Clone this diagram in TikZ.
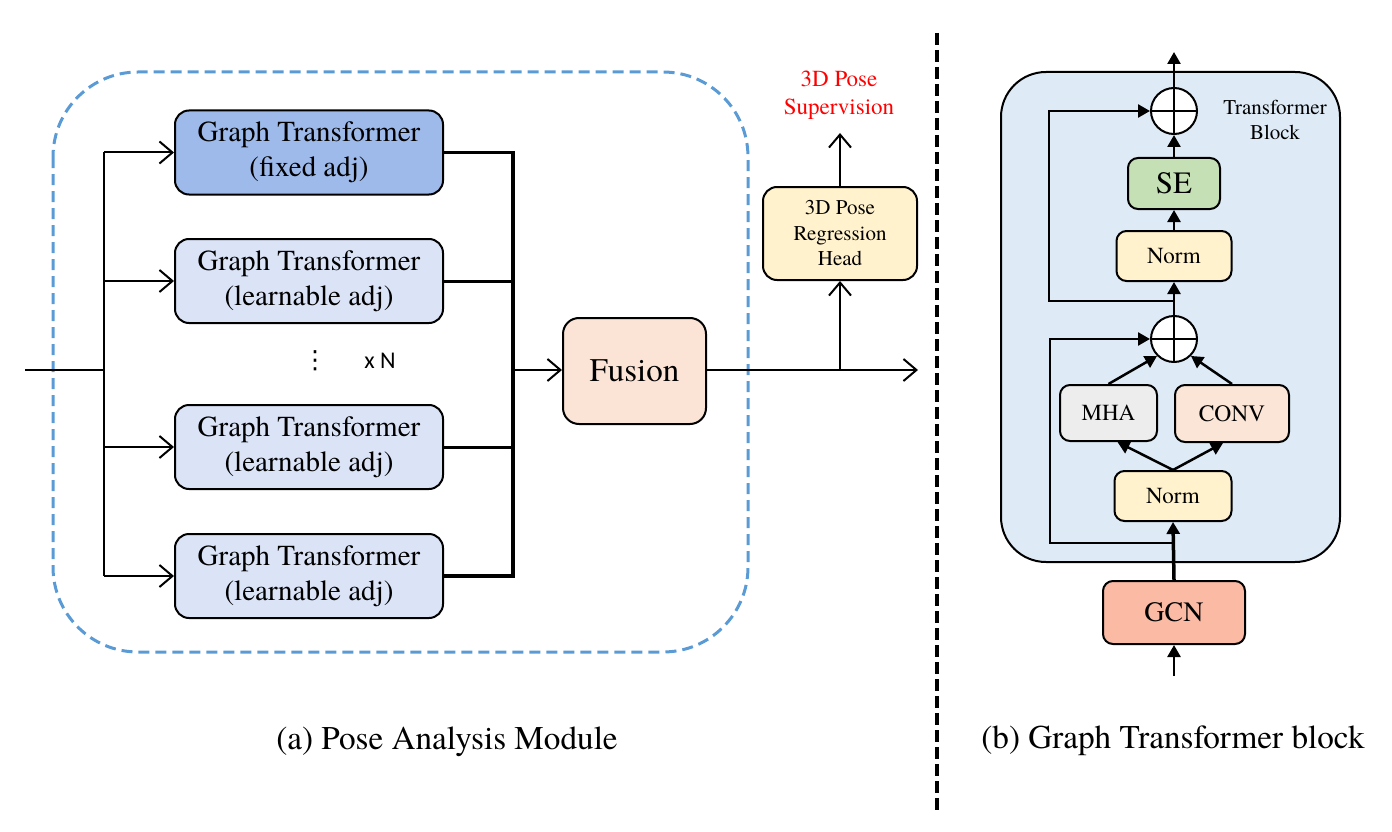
\documentclass[tikz,border=0pt]{standalone}
\usepackage{fontspec}
\setmainfont{texgyretermes}[Extension=.otf, UprightFont=*-regular, BoldFont=*-bold, ItalicFont=*-italic, BoldItalicFont=*-bolditalic]
\newfontfamily\calibri{Carlito}
\newfontfamily\djv{DejaVu Sans}
\usetikzlibrary{arrows.meta,calc}
\definecolor{gtdark}{RGB}{158,186,234}
\definecolor{gtlight}{RGB}{219,228,247}
\definecolor{fusionc}{RGB}{251,228,214}
\definecolor{headc}{RGB}{255,242,204}
\definecolor{blockc}{RGB}{222,235,247}
\definecolor{sec}{RGB}{197,224,180}
\definecolor{mhac}{RGB}{237,237,237}
\definecolor{convc}{RGB}{251,229,214}
\definecolor{gcnc}{RGB}{250,186,164}
\definecolor{dashc}{RGB}{91,155,213}
\tikzset{
  gtbox/.style={draw, line width=2pt, rounded corners=14pt, minimum width=268pt, minimum height=84pt, align=center, inner sep=0pt, font=\fontsize{29}{35}\selectfont},
  rbox/.style={draw, line width=2pt, rounded corners=10pt, inner sep=0pt, align=center},
  larr/.style={line width=2pt, -{Straight Barb[length=13pt,width=22pt]}},
  lline/.style={line width=2pt},
  barline/.style={line width=3.5pt, line join=miter},
  rarr/.style={line width=2.5pt, -{Triangle[length=12pt,width=13pt]}},
  plus/.style={circle, draw, fill=white, line width=2pt, minimum size=46pt, inner sep=0pt},
}
\begin{document}
\begin{tikzpicture}[x=1pt,y=-1pt]
\useasboundingbox (0,0) rectangle (1392,832);
% dashed container
\draw[dashc, line width=3pt, dash pattern=on 11pt off 6pt, rounded corners=85pt] (53,72) rectangle (748,652);
% divider
\draw[line width=4pt, dash pattern=on 12pt off 5pt] (937,33) -- (937,810);

% left part
\node[gtbox, fill=gtdark] (g1) at (309,152.5) {Graph Transformer\\(fixed adj)};
\node[gtbox, fill=gtlight] (g2) at (309,281) {Graph Transformer\\(learnable adj)};
\node[gtbox, fill=gtlight] (g3) at (309,447) {Graph Transformer\\(learnable adj)};
\node[gtbox, fill=gtlight] (g4) at (309,576) {Graph Transformer\\(learnable adj)};
\node[font=\djv\fontsize{25}{25}\selectfont] (dots) at (315,361) {⋮};
\node[font=\calibri\fontsize{24}{24}\selectfont] (xn) at (380,361) {x N};

\coordinate (inL) at (25,370);
\coordinate (bus) at (104,370);
\coordinate (rb) at (513,370);
\draw[lline] (inL) -- (bus);
\draw[lline] (bus |- g1.west) -- (bus |- g4.west);
\foreach \g in {g1,g2,g3,g4}{
  \draw[larr] (bus |- \g.west) -- (\g.west);
}
\draw[barline] (g1.east) -- (rb |- g1.east) -- (rb |- g4.east) -- (g4.east);
\draw[line width=3pt] (g2.east) -- (rb |- g2.east);
\draw[line width=3pt] (g3.east) -- (rb |- g3.east);

\node[rbox, fill=fusionc, rounded corners=16pt, minimum width=143pt, minimum height=106pt, font=\fontsize{33}{33}\selectfont] (fus) at (634.5,371) {Fusion};
\draw[larr] (rb) -- (fus.west |- rb);
\coordinate (outR) at (918,370);
\draw[larr] (fus.east |- outR) -- (outR);

\node[rbox, fill=headc, rounded corners=14pt, minimum width=154pt, minimum height=93pt, font=\fontsize{21}{25.5}\selectfont] (head) at (840,233.5) {3D Pose\\Regression\\Head};
\coordinate (br) at (840,370);
\draw[larr] (br) -- (head.south);
\coordinate (suptip) at (840,133);
\draw[larr] (head.north) -- (suptip);
\node[text=red, align=center, font=\fontsize{23}{28}\selectfont] (sup) at (839,95) {3D Pose\\Supervision};

% right part
\node[draw, fill=blockc, line width=2pt, rounded corners=45pt, minimum width=339pt, minimum height=490pt, inner sep=0pt] (blk) at (1170.5,317) {};
\node[align=center, font=\fontsize{21}{25}\selectfont] (blklabel) at (1275,120) {Transformer\\Block};

\node[plus] (p1) at (1174,111) {};
\draw[line width=2.5pt] (p1.west) -- (p1.east);
\node[rbox, fill=sec, minimum width=92pt, minimum height=51pt, font=\fontsize{31}{31}\selectfont] (se) at (1174,183.5) {SE};
\node[rbox, fill=headc, minimum width=115pt, minimum height=50pt, font=\fontsize{23}{23}\selectfont] (n2) at (1174,256) {Norm};
\node[plus] (p2) at (1174,339) {};
\draw[line width=2.5pt] (p2.west) -- (p2.east);
\draw[line width=2.5pt] (p2.north) -- (p2.south);
\node[rbox, fill=mhac, minimum width=97pt, minimum height=56pt, font=\fontsize{23}{23}\selectfont] (mha) at (1108.5,413) {MHA};
\node[rbox, fill=convc, minimum width=114pt, minimum height=57pt, font=\fontsize{23.5}{23.5}\selectfont] (conv) at (1232,413.5) {CONV};
\node[rbox, fill=headc, minimum width=117pt, minimum height=50pt, font=\fontsize{23}{23}\selectfont] (n1) at (1173,496) {Norm};
\node[rbox, fill=gcnc, minimum width=142pt, minimum height=63pt, font=\fontsize{28}{28}\selectfont] (gcn) at (1174,612.5) {GCN};

\coordinate (outT) at (1174,52);
\coordinate (inB) at (1174,676);
\coordinate (s1) at (1174,301);
\coordinate (s2) at (1174,543);
\draw[rarr] (se.north) -- (p1.south);
\draw[line width=2.5pt] (p1.south) -- (p1.north);
\draw[rarr] (p1.north) -- (outT);
\draw[rarr] (n2.north) -- (se.south);
\draw[rarr] (p2.north) -- (n2.south);
\draw[rarr] (s1) -- ++(-125,0) |- (p1.west);
\draw[rarr] (s2) -- ++(-124,0) |- (p2.west);
\draw[rarr] (mha.north) -- (p2.south west);
\draw[rarr] (conv.north) -- (p2.south east);
\draw[rarr] (n1.north) -- ([xshift=9pt]mha.south);
\draw[rarr] (n1.north) -- ([xshift=-9pt]conv.south);
\draw[rarr, line width=3.5pt] (gcn.north) -- (n1.south);
\draw[rarr] (inB) -- (gcn.south);

% captions
\node[font=\fontsize{33.2}{33.2}\selectfont] (capa) at (447,742) {(a) Pose Analysis Module};
\node[font=\fontsize{33.2}{33.2}\selectfont] (capb) at (1173,741) {(b) Graph Transformer block};
\end{tikzpicture}
\end{document}
